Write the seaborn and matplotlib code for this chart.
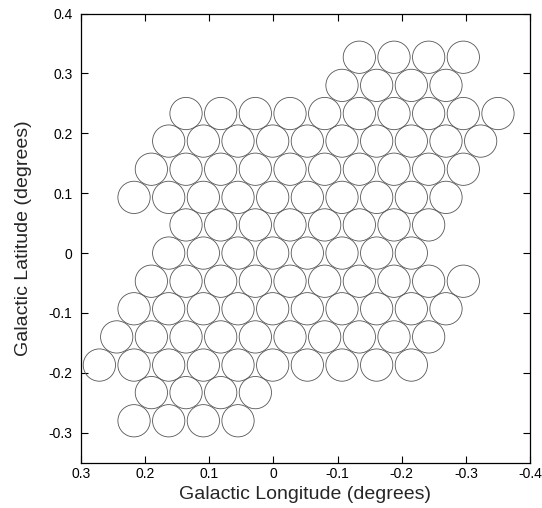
import matplotlib
matplotlib.use("Agg")
import matplotlib.pyplot as plt
import seaborn as sns
import pandas as pd

# Pointing centres (Galactic longitude, latitude in degrees), row by row
lat_rows = [0.327, 0.280, 0.233, 0.187, 0.140, 0.093, 0.047, 0.000,
            -0.047, -0.093, -0.140, -0.187, -0.233, -0.280]
lon_rows = [
    [-0.134, -0.188, -0.242, -0.296],
    [-0.107, -0.161, -0.215, -0.269],
    [0.136, 0.082, 0.028, -0.026, -0.080, -0.134, -0.188, -0.242, -0.296, -0.350],
    [0.163, 0.109, 0.055, 0.001, -0.053, -0.107, -0.161, -0.215, -0.269, -0.323],
    [0.190, 0.136, 0.082, 0.028, -0.026, -0.080, -0.134, -0.188, -0.242, -0.296],
    [0.217, 0.163, 0.109, 0.055, 0.001, -0.053, -0.107, -0.161, -0.215, -0.269],
    [0.136, 0.082, 0.028, -0.026, -0.080, -0.134, -0.188, -0.242],
    [0.163, 0.109, 0.055, 0.001, -0.053, -0.107, -0.161, -0.215],
    [0.190, 0.136, 0.082, 0.028, -0.026, -0.080, -0.134, -0.188, -0.242, -0.296],
    [0.217, 0.163, 0.109, 0.055, 0.001, -0.053, -0.107, -0.161, -0.215, -0.269],
    [0.244, 0.190, 0.136, 0.082, 0.028, -0.026, -0.080, -0.134, -0.188, -0.242],
    [0.271, 0.217, 0.163, 0.109, 0.055, 0.001, -0.053, -0.107, -0.161, -0.215],
    [0.190, 0.136, 0.082, 0.028],
    [0.217, 0.163, 0.109, 0.055],
]

x_ticks = [0.3, 0.2, 0.1, 0.0, -0.1, -0.2, -0.3, -0.4]
x_tick_labels = ["0.3", "0.2", "0.1", "0", "-0.1", "-0.2", "-0.3", "-0.4"]
y_ticks = [0.4, 0.3, 0.2, 0.1, 0.0, -0.1, -0.2, -0.3]
y_tick_labels = ["0.4", "0.3", "0.2", "0.1", "0", "-0.1", "-0.2", "-0.3"]

rows = []
for b, ls in zip(lat_rows, lon_rows):
    for l in ls:
        rows.append({"l": l, "b": b})
df = pd.DataFrame(rows)

sns.set_style("ticks")
plt.rcParams["font.family"] = ["Liberation Sans", "DejaVu Sans"]
plt.rcParams["axes.unicode_minus"] = False

fig = plt.figure(figsize=(5.42, 5.08), dpi=100)
ax = fig.add_axes([0.149, 0.0892, 0.829, 0.8842])

sns.scatterplot(data=df, x="l", y="b", ax=ax, marker="o", s=540,
                facecolors="none", edgecolor="#555555", linewidth=0.6,
                legend=False)

ax.set_xlim(0.3, -0.4)
ax.set_ylim(-0.35, 0.4)
ax.set_xticks(x_ticks)
ax.set_xticklabels(x_tick_labels)
ax.set_yticks(y_ticks)
ax.set_yticklabels(y_tick_labels)
ax.tick_params(direction="in", length=5, width=0.8, top=True, right=True,
               labelsize=10, colors="black")
ax.tick_params(axis="x", pad=3)
ax.tick_params(axis="y", pad=6)
for sp in ax.spines.values():
    sp.set_linewidth(0.9)
    sp.set_color("black")
    sp.set_visible(True)

ax.set_xlabel("Galactic Longitude (degrees)", fontsize=14, labelpad=4)
ax.set_ylabel("Galactic Latitude (degrees)", fontsize=14, labelpad=12)

fig.savefig("out.png", dpi=100)
